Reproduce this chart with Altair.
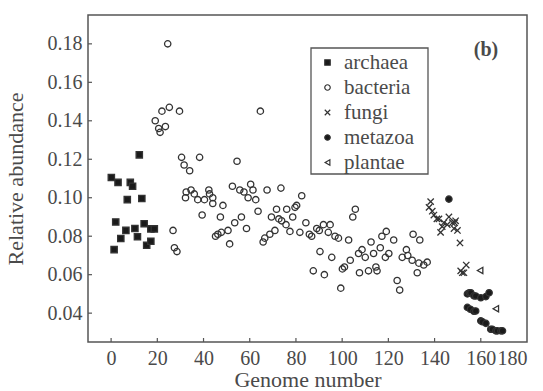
import altair as alt
import pandas as pd

archaea_x = [0.1, 1.3, 2.0, 3.0, 4.2, 6.4, 7.0, 8.3, 9.3, 10.3, 11.4, 12.2, 13.3, 14.3, 15.4, 17.2, 17.2, 18.7]
archaea_y = [0.1105, 0.073, 0.0874, 0.108, 0.0788, 0.083, 0.099, 0.108, 0.106, 0.084, 0.0797, 0.1223, 0.0996, 0.0865, 0.0753, 0.0838, 0.0774, 0.0838]

bacteria_x = [19.1, 20.6, 21.2, 22.0, 23.5, 24.5, 25.2, 29.6, 26.8, 27.4, 28.5, 30.5, 31.6, 34.0, 32.5, 34.6,
              36.0, 32.2, 37.5, 38.3, 40.4, 42.3, 42.6, 44.0, 44.0, 48.4, 39.4, 47.3, 52.5, 54.5, 55.7, 57.5,
              60.4, 61.4, 59.3, 62.6, 63.6, 64.6, 67.5, 73.5, 53.5, 56.4, 58.6, 50.6, 47.7, 45.2, 46.2, 51.3,
              71.6, 69.4, 72.6, 76.0, 75.7, 70.9, 68.7, 66.5, 65.8, 73.8, 77.4, 78.6, 79.6, 80.3, 82.5, 81.7,
              84.3, 85.8, 86.8, 89.0, 90.1, 91.9, 94.8, 94.0, 96.9, 98.4, 102.8, 104.6, 105.7, 90.4, 95.5, 87.5,
              92.3, 99.4, 100.1, 101.0, 103.5, 107.1, 108.6, 110.0, 107.5, 111.4, 112.5, 113.6, 116.5, 114.6,
              115.1, 117.2, 119.1, 118.7, 122.3, 120.2, 130.7, 133.6, 127.8, 128.4, 126.0, 130.3, 133.2, 135.3,
              136.8, 132.5, 123.8, 124.9]
bacteria_y = [0.140, 0.136, 0.134, 0.145, 0.137, 0.180, 0.147, 0.145, 0.083, 0.074, 0.072, 0.121, 0.117, 0.114, 0.103, 0.104,
              0.102, 0.100, 0.099, 0.121, 0.099, 0.104, 0.102, 0.100, 0.097, 0.096, 0.091, 0.090, 0.106, 0.119, 0.104, 0.103,
              0.107, 0.104, 0.100, 0.099, 0.093, 0.145, 0.104, 0.105, 0.087, 0.090, 0.084, 0.083, 0.082, 0.080, 0.081, 0.076,
              0.094, 0.090, 0.089, 0.094, 0.086, 0.083, 0.081, 0.079, 0.077, 0.088, 0.0825, 0.090, 0.095, 0.096, 0.101, 0.082,
              0.087, 0.081, 0.080, 0.084, 0.083, 0.086, 0.086, 0.082, 0.080, 0.079, 0.078, 0.090, 0.094, 0.072, 0.069, 0.062,
              0.060, 0.053, 0.063, 0.064, 0.0675, 0.071, 0.073, 0.069, 0.061, 0.062, 0.077, 0.071, 0.074, 0.064,
              0.062, 0.080, 0.0825, 0.069, 0.078, 0.071, 0.081, 0.078, 0.073, 0.070, 0.069, 0.0675, 0.066, 0.065,
              0.0665, 0.061, 0.057, 0.052]

fungi_x = [137.6, 138.3, 139.0, 139.7, 141.0, 141.9, 142.6, 143.3, 144.0, 145.5, 146.2, 147.7, 148.4, 148.7, 149.1, 149.9, 151.0, 151.3, 152.0, 152.7, 153.7]
fungi_y = [0.095, 0.098, 0.093, 0.091, 0.089, 0.089, 0.082, 0.085, 0.087, 0.086, 0.090, 0.087, 0.084, 0.087, 0.088, 0.083, 0.0765, 0.062, 0.061, 0.061, 0.065]

metazoa_x = [146.2, 154.2, 155.0, 155.7, 157.0, 157.8, 160.0, 162.2, 163.6, 154.2, 155.5, 157.0, 157.8, 160.0, 160.7, 162.2, 164.3, 165.0, 166.5, 167.2, 168.7, 169.4]
metazoa_y = [0.0993, 0.050, 0.0506, 0.0506, 0.049, 0.0489, 0.048, 0.0486, 0.0506, 0.043, 0.042, 0.041, 0.0411, 0.036, 0.0355, 0.0347, 0.0316, 0.0316, 0.0308, 0.0308, 0.0308, 0.0308]

plantae_x = [159.7, 166.5]
plantae_y = [0.0622, 0.0423]

groups = ["archaea", "bacteria", "fungi", "metazoa", "plantae"]
x_ticks = [0, 20, 40, 60, 80, 100, 120, 140, 160, 180]
y_ticks = [0.04, 0.06, 0.08, 0.10, 0.12, 0.14, 0.16, 0.18]

rows = []
for g, xs, ys in [("archaea", archaea_x, archaea_y), ("bacteria", bacteria_x, bacteria_y),
                  ("fungi", fungi_x, fungi_y), ("metazoa", metazoa_x, metazoa_y),
                  ("plantae", plantae_x, plantae_y)]:
    for a, b in zip(xs, ys):
        rows.append({"genome": a, "abundance": b, "group": g})
df = pd.DataFrame(rows)

FONT = "Liberation Serif"
TXT = "#4a4a4a"
X_PATH = "M-1,-1L1,1M-1,1L1,-1"

xscale = alt.Scale(domain=[-10, 180], nice=False, zero=False)
yscale = alt.Scale(domain=[0.025, 0.195], nice=False, zero=False)

legend = alt.Legend(title=None, orient="none", legendX=229, legendY=37,
                    strokeColor="transparent", padding=0, rowPadding=3,
                    labelFontSize=21, labelFont=FONT, labelColor=TXT,
                    symbolSize=30, labelOffset=6, symbolStrokeColor="#333",
                    symbolStrokeWidth=1.2)

points = alt.Chart(df).mark_point(strokeWidth=1.3, opacity=1, size=40).encode(
    x=alt.X("genome:Q", scale=xscale,
            axis=alt.Axis(values=x_ticks, title="Genome number", grid=False, domain=False,
                          tickSize=0, labelPadding=6, titlePadding=1)),
    y=alt.Y("abundance:Q", scale=yscale,
            axis=alt.Axis(values=y_ticks, format=".2f", title="Relative abundance", grid=False,
                          domain=False, tickSize=0, labelPadding=6, titlePadding=20)),
    shape=alt.Shape("group:N", scale=alt.Scale(domain=groups,
                    range=["square", "circle", X_PATH, "circle", "triangle-left"]), legend=legend),
    fill=alt.Fill("group:N", scale=alt.Scale(domain=groups,
                  range=["#1a1a1a", "transparent", "transparent", "#1a1a1a", "transparent"]), legend=legend),
    stroke=alt.Stroke("group:N", scale=alt.Scale(domain=groups,
                      range=["#333", "#333", "#333", "#333", "#333"]), legend=legend),
)

box = alt.Chart(pd.DataFrame({"s": ["box"]})).mark_rect(
    fill="transparent", stroke="#555", strokeWidth=1.3
).encode(x=alt.value(223), x2=alt.value(340), y=alt.value(33), y2=alt.value(159))

xt = alt.Chart(pd.DataFrame({"t": x_ticks[:-1]})).mark_rule(color="#555", strokeWidth=1.2).encode(
    x=alt.X("t:Q", scale=xscale), y=alt.value(327), y2=alt.value(323))
yt = alt.Chart(pd.DataFrame({"t": y_ticks})).mark_rule(color="#555", strokeWidth=1.2).encode(
    y=alt.Y("t:Q", scale=yscale), x=alt.value(0), x2=alt.value(4))

label = alt.Chart(pd.DataFrame({"s": ["(b)"]})).mark_text(
    font=FONT, fontSize=20, fontWeight="bold", color=TXT, align="center", baseline="middle"
).encode(text="s:N", x=alt.value(398), y=alt.value(35))

chart = alt.layer(box, points, xt, yt, label).properties(
    width=439, height=327,
    autosize=alt.AutoSizeParams(type="none"),
    padding={"left": 88, "top": 15, "right": 16, "bottom": 49},
).configure_view(stroke="#555", strokeWidth=1.5).configure_axis(
    labelFont=FONT, labelFontSize=20, labelColor=TXT,
    titleFont=FONT, titleFontSize=22, titleFontWeight="normal", titleColor=TXT,
)

chart.save("out.html", embed_options={"renderer": "svg", "actions": False})
